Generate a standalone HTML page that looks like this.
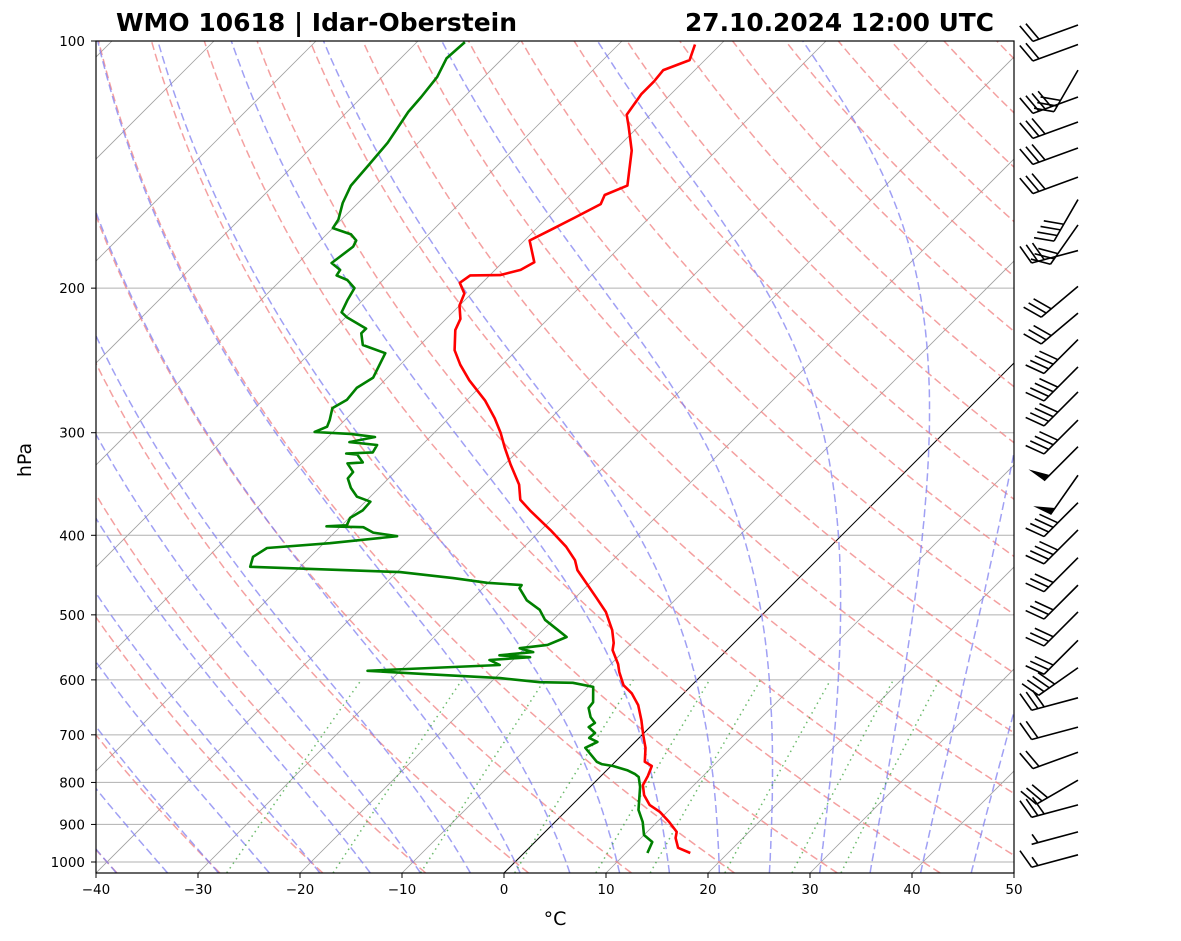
<!DOCTYPE html>
<html><head><meta charset="utf-8"><style>
html,body{margin:0;padding:0;background:#fff;}
svg{display:block;font-family:"DejaVu Sans","Liberation Sans",sans-serif;}
</style></head><body>
<svg id="chart" width="1181" height="941" viewBox="0 0 1181 941" xmlns="http://www.w3.org/2000/svg">
<defs><clipPath id="plotclip"><rect x="96" y="41" width="918" height="832"/></clipPath></defs>
<rect x="0" y="0" width="1181" height="941" fill="#fff"/>
<text x="116" y="31" font-size="24.5" font-weight="bold" textLength="401" lengthAdjust="spacingAndGlyphs">WMO 10618 | Idar-Oberstein</text>
<text x="685" y="31" font-size="24.5" font-weight="bold" textLength="309" lengthAdjust="spacingAndGlyphs">27.10.2024 12:00 UTC</text>
<g id="bg" clip-path="url(#plotclip)"></g>
<g id="profiles" clip-path="url(#plotclip)"></g>
<rect x="96" y="41" width="918" height="832" fill="none" stroke="#000" stroke-width="1.2"/>
<g id="axes"></g>
<g id="barbs"></g>
<text x="555" y="925" font-size="19" text-anchor="middle">°C</text>
<text x="0" y="0" font-size="19" text-anchor="middle" transform="translate(31,460) rotate(-90)">hPa</text>
</svg>
<script>
// ---- data ----
const tP = [975,961,935,919,894,869,852,829,806,786,764,755,726,700,672,644,623,609,587,574,552,541,522,496,476,457,441,429,413,394,373,362,347,328,313,300,288,274,259,248,238,225,218,210,203,197,193,192.8,190,186,175,170,164,158,154,150,136,127,123,116,112,108.5,105.5,101];
const tT = [16.3,14.6,13.4,12.9,11.2,9.3,7.6,6.1,5.0,4.6,4.0,2.9,1.6,0.1,-1.5,-3.3,-5.1,-6.7,-8.4,-9.3,-11.2,-11.8,-13.2,-15.6,-18.0,-20.4,-22.5,-23.7,-25.9,-29.1,-33.0,-35.0,-36.6,-39.4,-41.6,-43.5,-45.5,-48.2,-51.7,-54.1,-56.1,-58.0,-58.6,-60.0,-60.7,-62.2,-61.9,-59.0,-57.5,-56.9,-59.5,-58.5,-57.3,-56.1,-56.6,-55.3,-58.3,-61.0,-62.3,-62.9,-62.9,-63.1,-61.5,-62.5];
const dP = [975,945.5,927,894,864,810,788,781,773,764,760,755,726,714,706,696.5,685,677,666,649,639,612,605,604,597,590,585,582,575.5,567.5,563,560,555,549,544,532,522,507,493,480,464,460,457,451,443.5,437,425,414.5,409,401,397,391,390,389,381,373,364,359,350,341,335,327,326,319,318,317,310.5,308,303.6,301,299.4,295,289.5,280,273.6,264.6,257,240,234.6,227,224,217,214,207,200,195.5,193,190,186.4,183,178,175,172,169,165,157.5,150,141,133,122,117,110.6,105,100.3];
const dT = [12.1,11.5,10.0,8.6,7.0,4.9,3.8,3.1,2.0,0.2,-1.1,-1.8,-4.3,-3.7,-4.9,-4.8,-6.0,-5.8,-6.8,-7.9,-8.0,-9.5,-11.9,-15.2,-19.5,-27.5,-33.2,-29.5,-20.8,-22.3,-18.6,-21.8,-18.8,-20.5,-18.1,-17.0,-18.5,-20.8,-22.3,-24.5,-26.4,-26.5,-30.1,-33.9,-39.7,-54.9,-55.6,-55.1,-49.4,-43.5,-46.2,-47.7,-51.4,-49.5,-49.9,-49.4,-49.5,-51.3,-52.8,-54.0,-54.1,-55.5,-54.1,-55.4,-56.6,-54.1,-54.4,-57.4,-55.4,-58.1,-61.8,-61.1,-61.5,-62.4,-61.8,-62.0,-61.4,-62.6,-65.6,-66.9,-66.9,-69.9,-70.9,-71.5,-72.0,-73.5,-75.0,-75.2,-76.7,-76.5,-76.2,-76.5,-77.6,-80.0,-80.3,-81.5,-82.4,-82.7,-83.0,-84.0,-84.2,-84.6,-85.5,-85.3];
const windP = [95.6,101,108.5,117,125.5,135,146.5,156,167.5,180,199,214.5,231,249.5,267.6,289.5,312,338,365,394,426,460,496,537,580,631,685,735,795,852,919,980];
const windDir = [250,250,210,250,250,250,250,210,215,255,230,230,225,225,225,225,225,215,225,225,225,225,225,225,235,255,255,250,240,255,255,255];
const windSpd = [20,20,30,40,30,30,30,40,30,30,30,30,40,40,40,40,50,50,40,40,30,30,30,30,40,30,20,20,30,30,5,15];
const xTicks = [-40,-30,-20,-10,0,10,20,30,40,50];
const yTicks = [100,200,300,400,500,600,700,800,900,1000];
const mixRatios = [0.0004,0.001,0.002,0.004,0.007,0.01,0.016,0.024,0.032];

// ---- axis functions ----
const PBOT = 1031;
function yOf(p){ return 41 + 821*Math.log10(p/100); }
function xOf(T,p){ return 96 + 10.2*(T+40) + (873 - yOf(p)); }
const NS='http://www.w3.org/2000/svg';
function mk(tag, attrs, parent){ const e=document.createElementNS(NS,tag); for(const k in attrs) e.setAttribute(k,attrs[k]); parent.appendChild(e); return e; }
function pathFrom(pts){ return pts.map((q,i)=>(i?'L':'M')+q[0].toFixed(1)+','+q[1].toFixed(1)).join(''); }
const bg=document.getElementById('bg'), prof=document.getElementById('profiles'), axes=document.getElementById('axes'), barbs=document.getElementById('barbs');
const pLevels=[]; for(let i=0;i<=120;i++){ pLevels.push(PBOT*Math.pow(100/PBOT,i/120)); }

yTicks.forEach(p=>{
  const l=mk('line',{x1:96,x2:1014,y1:yOf(p),y2:yOf(p),stroke:'#b0b0b0','stroke-width':1},bg);
  
  
});
for(let T=-160;T<=50;T+=10){
  const l=mk('line',{x1:xOf(T,PBOT),y1:yOf(PBOT),x2:xOf(T,100),y2:yOf(100),stroke:T===0?'#000':'#a0a0a0','stroke-width':T===0?1:0.8},bg);
  
  
}
for(let t0=-40;t0<=200;t0+=10){
  const pts=pLevels.map(p=>[xOf((t0+273.15)*Math.pow(p/1000,0.2857)-273.15,p),yOf(p)]);
  const e=mk('path',{d:pathFrom(pts),fill:'none',stroke:'#f08080','stroke-opacity':0.75,'stroke-width':1.5,'stroke-dasharray':'8,4'},bg);
  
  
}
function dTdp(p,T){ const es=6.112*Math.exp(17.67*(T-273.15)/(T-29.65)); const rs=0.622*es/(p-es);
  return (287.04*T+2.501e6*rs)/(1005.7+2.501e6*2.501e6*rs*0.622/(287.04*T*T))/p; }
function integrate(T0,p0,p1,n){ const out=[[p0,T0]]; let T=T0,p=p0; const h=(p1-p0)/n;
  for(let i=0;i<n;i++){ const k1=dTdp(p,T),k2=dTdp(p+h/2,T+h/2*k1),k3=dTdp(p+h/2,T+h/2*k2),k4=dTdp(p+h,T+h*k3);
    T+=h/6*(k1+2*k2+2*k3+k4); p+=h; out.push([p,T]); } return out; }
for(let t0=-40;t0<=50;t0+=5){
  const up=integrate(t0+273.15,1000,100,180), dn=integrate(t0+273.15,1000,PBOT,6);
  const all=dn.reverse().concat(up.slice(1));
  const pts=all.map(a=>[xOf(a[1]-273.15,a[0]),yOf(a[0])]);
  const e=mk('path',{d:pathFrom(pts),fill:'none',stroke:'#8080f0','stroke-opacity':0.75,'stroke-width':1.5,'stroke-dasharray':'8,4'},bg);
  
  
}
mixRatios.forEach(w=>{
  const pts=[]; for(let i=0;i<=20;i++){ const p=PBOT+(600-PBOT)*i/20; const e=p*w/(0.622+w); const L=Math.log(e/6.112);
    const td=243.5*L/(17.67-L); pts.push([xOf(td,p),yOf(p)]); }
  const e=mk('path',{d:pathFrom(pts),fill:'none',stroke:'#2e9e2e','stroke-opacity':0.7,'stroke-width':1.5,'stroke-dasharray':'1.5,4'},bg);
  
  
});
const tl=mk('path',{d:pathFrom(tP.map((p,i)=>[xOf(tT[i],p),yOf(p)])),fill:'none',stroke:'#ff0000','stroke-width':2.6,'stroke-linejoin':'round'},prof);


const dl=mk('path',{d:pathFrom(dP.map((p,i)=>[xOf(dT[i],p),yOf(p)])),fill:'none',stroke:'#008000','stroke-width':2.6,'stroke-linejoin':'round'},prof);


xTicks.forEach(T=>{
  const x=96+10.2*(T+40);
  const tk=mk('line',{x1:x,x2:x,y1:873,y2:878,stroke:'#000','stroke-width':1},axes);
  
  
  const t=mk('text',{x:x,y:894,'font-size':13.5,'text-anchor':'middle'},axes);
  t.textContent=(T<0?'\u2212'+(-T):String(T));
  
  
});
yTicks.forEach(p=>{
  const y=yOf(p);
  const tk=mk('line',{x1:91,x2:96,y1:y,y2:y,stroke:'#000','stroke-width':1},axes);
  
  
  const t=mk('text',{x:85,y:y+5,'font-size':13.5,'text-anchor':'end'},axes);
  t.textContent=String(p);
  
  
});
windP.forEach((p,i)=>{
  const ax=1078, ay=yOf(p), d=windDir[i]*Math.PI/180, L=48;
  const sx=Math.sin(d), sy=-Math.cos(d);
  const tx=ax+sx*L, ty=ay+sy*L;
  const px=sy, py=-sx;
  const g=mk('g',{},barbs);
  
  
  mk('line',{x1:ax,y1:ay,x2:tx,y2:ty,stroke:'#000','stroke-width':1.6},g);
  let s=windSpd[i], pos=0; const H=19, step=6.5;
  let ppx=px, ppy=py; if(ppy>0){ppx=-px;ppy=-py;}
  while(s>=50){ const bx=tx-sx*pos, by=ty-sy*pos;
    mk('polygon',{points:`${bx},${by} ${bx+ppx*H+sx*3},${by+ppy*H+sy*3} ${bx-sx*8},${by-sy*8}`,fill:'#000'},g);
    pos+=10; s-=50; }
  while(s>=10){ const bx=tx-sx*pos, by=ty-sy*pos;
    mk('line',{x1:bx,y1:by,x2:bx+ppx*H+sx*7,y2:by+ppy*H+sy*7,stroke:'#000','stroke-width':1.6},g);
    pos+=step; s-=10; }
  if(s>=5){ if(pos===0) pos=step; const bx=tx-sx*pos, by=ty-sy*pos;
    mk('line',{x1:bx,y1:by,x2:bx+ppx*H/2+sx*3.5,y2:by+ppy*H/2+sy*3.5,stroke:'#000','stroke-width':1.6},g); }
});
</script>
</body></html>
